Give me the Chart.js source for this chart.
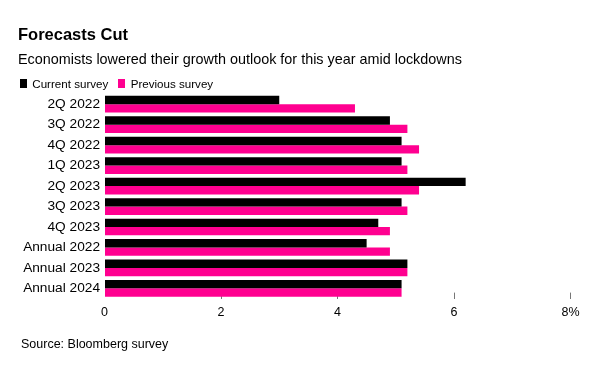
<!DOCTYPE html>
<html>
<head>
<meta charset="utf-8">
<script src="https://cdn.jsdelivr.net/npm/chart.js@4.4.1/dist/chart.umd.min.js"></script>
<style>
  html, body { margin: 0; padding: 0; background: #fff; }
  #wrap { position: relative; width: 611px; height: 365px; overflow: hidden; font-family: "Liberation Sans", Arial, sans-serif; color: #000; }
  #wrap canvas { position: absolute; left: 0; top: 0; }
  .t { position: absolute; white-space: nowrap; }
  #title { left: 18px; top: 26px; font-size: 16.5px; line-height: 16.5px; font-weight: bold; }
  #subtitle { left: 18px; top: 51.8px; font-size: 14.4px; line-height: 14.4px; }
  #legend { left: 20px; top: 77.5px; font-size: 11.6px; line-height: 11.6px; }
  .sw { position: absolute; top: 1.5px; width: 7px; height: 9px; }
  #source { left: 21px; top: 337.5px; font-size: 12.5px; line-height: 12.5px; }
</style>
</head>
<body>
<div id="wrap">
  <canvas id="c" width="611" height="365"></canvas>
  <div class="t" id="title">Forecasts Cut</div>
  <div class="t" id="subtitle">Economists lowered their growth outlook for this year amid lockdowns</div>
  <div class="t" id="legend">
    <span class="sw" style="left:0;background:#000"></span><span style="position:absolute;left:12.3px">Current survey</span>
    <span class="sw" style="left:98.3px;background:#ff0090"></span><span style="position:absolute;left:110.7px">Previous survey</span>
  </div>
  <div class="t" id="source">Source: Bloomberg survey</div>
</div>
<script>
const categories = ["2Q 2022", "3Q 2022", "4Q 2022", "1Q 2023", "2Q 2023", "3Q 2023", "4Q 2023", "Annual 2022", "Annual 2023", "Annual 2024"];
const currentSurvey = [3.0, 4.9, 5.1, 5.1, 6.2, 5.1, 4.7, 4.5, 5.2, 5.1];
const previousSurvey = [4.3, 5.2, 5.4, 5.2, 5.4, 5.2, 4.9, 4.9, 5.2, 5.1];
const xTickValues = [0, 2, 4, 6, 8];
const xTickLabels = ["0", "2", "4", "6", "8%"];
const seriesNames = ["Current survey", "Previous survey"];

new Chart(document.getElementById("c"), {
  type: "bar",
  data: {
    labels: categories,
    datasets: [
      { label: seriesNames[0], data: currentSurvey, backgroundColor: "#000000", borderWidth: 0 },
      { label: seriesNames[1], data: previousSurvey, backgroundColor: "#ff0090", borderWidth: 0 }
    ]
  },
  options: {
    indexAxis: "y",
    responsive: false,
    devicePixelRatio: 1,
    animation: false,
    categoryPercentage: 0.817,
    barPercentage: 1.0,
    layout: { padding: { top: 94, left: 0, right: 40.5, bottom: 0 } },
    plugins: { legend: { display: false }, title: { display: false }, tooltip: { enabled: false } },
    scales: {
      y: {
        type: "category",
        offset: true,
        grid: { display: false, drawTicks: false },
        border: { display: false },
        ticks: { color: "#000", font: { family: "Liberation Sans", size: 13.7 }, padding: 4.5 },
        afterFit: (s) => { s.width = 104.5; }
      },
      x: {
        type: "linear",
        min: 0,
        max: 8,
        afterBuildTicks: (s) => { s.ticks = xTickValues.map(v => ({ value: v })); },
        ticks: {
          color: "#000",
          font: { family: "Liberation Sans", size: 12.5 },
          padding: 12.4,
          callback: (v) => xTickLabels[xTickValues.indexOf(v)]
        },
        grid: {
          drawOnChartArea: false,
          drawTicks: true,
          tickLength: -6,
          lineWidth: 1,
          color: (ctx) => (ctx.tick && ctx.tick.value === 0) ? "rgba(0,0,0,0)" : "#777"
        },
        border: { display: false },
        afterFit: (s) => { s.height = 66.4; }
      }
    }
  }
});
</script>
</body>
</html>
